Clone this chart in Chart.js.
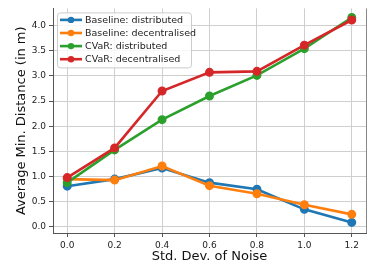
<!DOCTYPE html>
<html lang="en">
<head>
    <meta charset="UTF-8">
    <title>Average Min. Distance vs Noise</title>
    <style>
        body {
            margin: 0;
            padding: 0;
            background-color: #fff;
        }
    </style>
    <script src="https://cdn.jsdelivr.net/npm/chart.js"></script>
</head>
<body>

<canvas id="distChart" width="372" height="267"></canvas>

<script>
    // noise levels on the x axis
    const noiseLevels = [0.0, 0.2, 0.4, 0.6, 0.8, 1.0, 1.2];
    const xTicks = [0.0, 0.2, 0.4, 0.6, 0.8, 1.0, 1.2];
    const yTicks = [0.0, 0.5, 1.0, 1.5, 2.0, 2.5, 3.0, 3.5, 4.0];

    const seriesNames = ['Baseline: distributed', 'Baseline: decentralised', 'CVaR: distributed', 'CVaR: decentralised'];
    const baselineDistributed = [0.81, 0.95, 1.17, 0.88, 0.75, 0.35, 0.09];
    const baselineDecentralised = [0.95, 0.93, 1.21, 0.82, 0.66, 0.44, 0.25];
    const cvarDistributed = [0.88, 1.53, 2.13, 2.60, 3.01, 3.54, 4.16];
    const cvarDecentralised = [0.98, 1.57, 2.70, 3.07, 3.09, 3.61, 4.11];

    const colors = ['#1f77b4', '#ff7f0e', '#2ca02c', '#d62728'];
    const allSeries = [baselineDistributed, baselineDecentralised, cvarDistributed, cvarDecentralised];

    const datasets = allSeries.map(function (values, i) {
        return {
            label: seriesNames[i],
            data: values.map(function (v, j) { return { x: noiseLevels[j], y: v }; }),
            borderColor: colors[i],
            backgroundColor: colors[i],
            borderWidth: 2.6,
            pointRadius: 3.2,
            pointHoverRadius: 3.2,
            order: 4 - i
        };
    });

    // legend drawn inside the plot, like matplotlib's upper left, plus the right spine
    const innerLegend = {
        id: 'innerLegend',
        afterDraw(chart) {
            const ctx = chart.ctx;
            const area = chart.chartArea;
            ctx.save();
            ctx.strokeStyle = '#888';
            ctx.lineWidth = 1;
            ctx.beginPath();
            ctx.moveTo(area.right + 0.5, area.top);
            ctx.lineTo(area.right + 0.5, area.bottom);
            ctx.stroke();

            const x0 = area.left + 4;
            const y0 = area.top + 4;
            const w = 134;
            const h = 55;
            ctx.beginPath();
            ctx.roundRect(x0 + 0.5, y0 + 0.5, w, h, 3);
            ctx.fillStyle = 'rgba(255,255,255,0.8)';
            ctx.fill();
            ctx.strokeStyle = '#cccccc';
            ctx.lineWidth = 1;
            ctx.stroke();
            ctx.font = '9.5px "DejaVu Sans"';
            ctx.textBaseline = 'middle';
            chart.data.datasets.forEach(function (ds, i) {
                const cy = y0 + 7.5 + i * 13.1;
                ctx.strokeStyle = ds.borderColor;
                ctx.lineWidth = 2.6;
                ctx.beginPath();
                ctx.moveTo(x0 + 3, cy);
                ctx.lineTo(x0 + 25, cy);
                ctx.stroke();
                ctx.fillStyle = ds.borderColor;
                ctx.beginPath();
                ctx.arc(x0 + 14, cy, 3.2, 0, Math.PI * 2);
                ctx.fill();
                ctx.fillStyle = '#222';
                ctx.fillText(ds.label, x0 + 28, cy + 0.5);
            });
            ctx.restore();
        }
    };

    const ctx = document.getElementById('distChart').getContext('2d');
    new Chart(ctx, {
        type: 'line',
        data: { datasets: datasets },
        plugins: [innerLegend],
        options: {
            responsive: false,
            animation: false,
            layout: { padding: { top: 0, right: 6, left: 0, bottom: 0 } },
            plugins: {
                legend: { display: false },
                tooltip: { enabled: false }
            },
            scales: {
                x: {
                    type: 'linear',
                    min: -0.06,
                    max: 1.26,
                    afterBuildTicks: function (scale) {
                        scale.ticks = xTicks.map(function (v) { return { value: v }; });
                    },
                    afterFit: function (scale) { scale.height = 34; },
                    ticks: {
                        color: '#222',
                        font: { family: 'DejaVu Sans', size: 9 },
                        padding: 3,
                        maxRotation: 0,
                        callback: function (v) { return v.toFixed(1); }
                    },
                    grid: { color: '#cfcfcf', lineWidth: 1, tickLength: 4, tickColor: '#555' },
                    border: { color: '#555', width: 1 },
                    title: {
                        display: true,
                        text: 'Std. Dev. of Noise',
                        color: '#111',
                        font: { family: 'DejaVu Sans', size: 13 },
                        padding: { top: 0, bottom: 3 }
                    }
                },
                y: {
                    type: 'linear',
                    min: -0.12,
                    max: 4.34,
                    afterBuildTicks: function (scale) {
                        scale.ticks = yTicks.map(function (v) { return { value: v }; });
                    },
                    afterFit: function (scale) { scale.width = 53; },
                    ticks: {
                        color: '#222',
                        font: { family: 'DejaVu Sans', size: 9 },
                        padding: 3,
                        callback: function (v) { return v.toFixed(1); }
                    },
                    grid: { color: '#cfcfcf', lineWidth: 1, tickLength: 4, tickColor: '#555' },
                    border: { color: '#555', width: 1 },
                    title: {
                        display: true,
                        text: 'Average Min. Distance (in m)',
                        color: '#111',
                        font: { family: 'DejaVu Sans', size: 13 },
                        padding: { top: 14, bottom: 0 }
                    }
                }
            }
        }
    });
</script>
</body>
</html>
